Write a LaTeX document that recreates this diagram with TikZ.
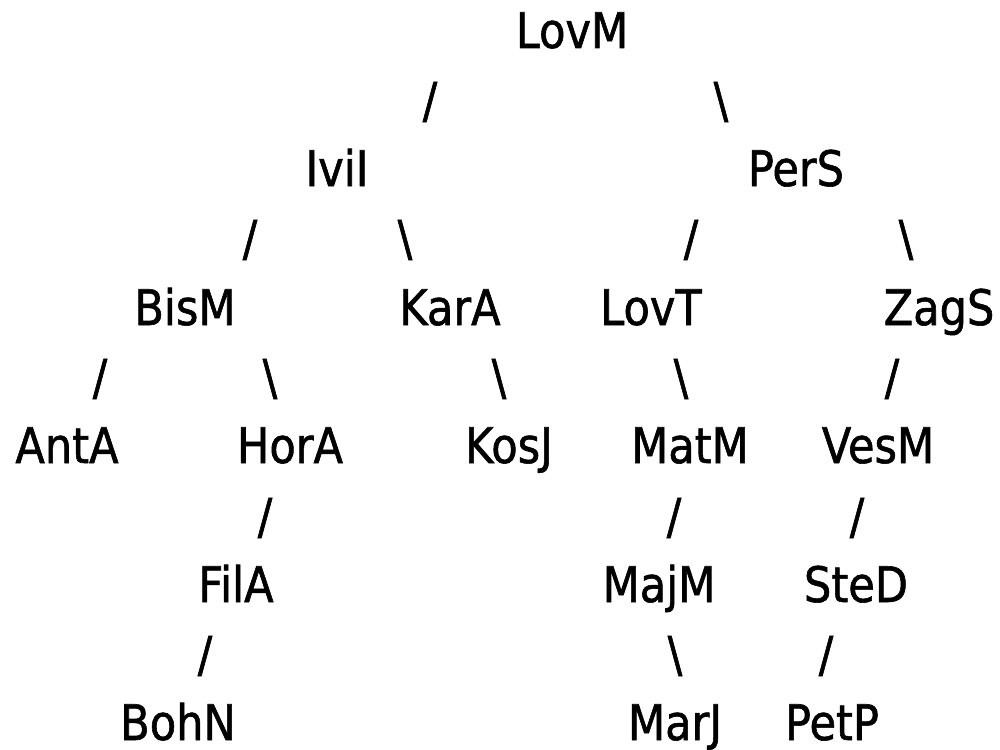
\documentclass[tikz,border=0pt]{standalone}
\usepackage{fontspec}
\setmainfont{DejaVu Sans}[FakeStretch=0.88,FakeBold=1.2]
\begin{document}
\begin{tikzpicture}[x=1pt,y=-1pt,
  person/.style={anchor=base,inner sep=0pt,font=\fontsize{49}{59}\selectfont},
  branch/.style={anchor=center,inner sep=0pt,font=\fontsize{49}{59}\selectfont}]
\useasboundingbox (0,0) rectangle (1000,749);
% names
\node[person] (LovM) at (572,48) {LovM};
\node[person] (IviI) at (337,186) {IviI};
\node[person] (PerS) at (796,186) {PerS};
\node[person] (BisM) at (185,325) {BisM};
\node[person] (KarA) at (450,325) {KarA};
\node[person] (LovT) at (651,325) {LovT};
\node[person] (ZagS) at (939,325) {ZagS};
\node[person] (AntA) at (67,463) {AntA};
\node[person] (HorA) at (290,463) {HorA};
\node[person] (KosJ) at (509,463) {KosJ};
\node[person] (MatM) at (690,463) {MatM};
\node[person] (VesM) at (878,463) {VesM};
\node[person] (FilA) at (236,602) {FilA};
\node[person] (MajM) at (659,602) {MajM};
\node[person] (SteD) at (856,602) {SteD};
\node[person] (BohN) at (178,740) {BohN};
\node[person] (MarJ) at (675,740) {MarJ};
\node[person] (PetP) at (832,740) {PetP};
% branches
\node[branch] (e1) at (430,102) {/};
\node[branch] (e2) at (721,102) {\textbackslash};
\node[branch] (e3) at (250,240) {/};
\node[branch] (e4) at (405,240) {\textbackslash};
\node[branch] (e5) at (691,240) {/};
\node[branch] (e6) at (906,240) {\textbackslash};
\node[branch] (e7) at (100,379) {/};
\node[branch] (e8) at (270,379) {\textbackslash};
\node[branch] (e9) at (499,379) {\textbackslash};
\node[branch] (e10) at (681,379) {\textbackslash};
\node[branch] (e11) at (892,379) {/};
\node[branch] (e12) at (265,518) {/};
\node[branch] (e13) at (674,518) {/};
\node[branch] (e14) at (857,518) {/};
\node[branch] (e15) at (205,656) {/};
\node[branch] (e16) at (675,656) {\textbackslash};
\node[branch] (e17) at (826,656) {/};
\end{tikzpicture}
\end{document}
